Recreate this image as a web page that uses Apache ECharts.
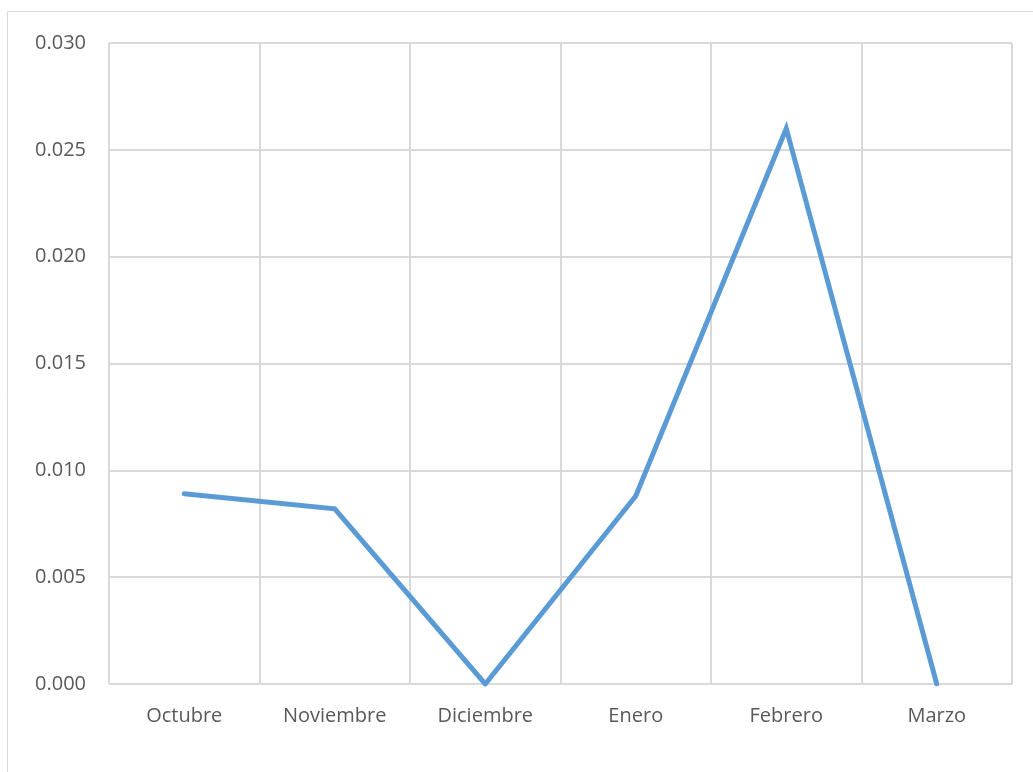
<!DOCTYPE html>
<html>
<head>
<meta charset="utf-8">
<script src="https://cdn.jsdelivr.net/npm/echarts@6/dist/echarts.min.js"></script>
<style>
  html, body { margin: 0; padding: 0; background: #fff; }
  #chart { width: 1033px; height: 772px; }
</style>
</head>
<body>
<div id="chart"></div>
<script>
// Monthly values, October to March
const months = ['Octubre', 'Noviembre', 'Diciembre', 'Enero', 'Febrero', 'Marzo'];
const values = [0.0089, 0.0082, 0.0, 0.0088, 0.026, 0.0];
const yMin = 0;
const yMax = 0.03;
const yStep = 0.005;

const chart = echarts.init(document.getElementById('chart'));
const gridColor = '#d9d9d9';
const textColor = '#595959';
const font = '"Open Sans", "Liberation Sans", sans-serif';

chart.setOption({
  animation: false,
  backgroundColor: '#fff',
  graphic: [{
    type: 'rect',
    shape: { x: 7.5, y: 11.5, width: 1100, height: 900 },
    style: { fill: 'none', stroke: gridColor, lineWidth: 1 },
    silent: true,
    z: -1
  }],
  grid: { left: 109, right: 21, top: 43, bottom: 88, containLabel: false },
  xAxis: {
    type: 'category',
    data: months,
    boundaryGap: true,
    axisLine: { show: true, lineStyle: { color: gridColor, width: 2 } },
    axisTick: { show: false },
    splitLine: { show: true, lineStyle: { color: gridColor, width: 2 } },
    axisLabel: { color: textColor, fontFamily: font, fontSize: 20, margin: 22 }
  },
  yAxis: {
    type: 'value',
    min: yMin,
    max: yMax,
    interval: yStep,
    axisLine: { show: false },
    axisTick: { show: false },
    splitLine: { show: true, lineStyle: { color: gridColor, width: 2 } },
    axisLabel: {
      color: textColor, fontFamily: font, fontSize: 20, margin: 23,
      formatter: v => v.toFixed(3)
    }
  },
  series: [{
    type: 'line',
    data: values,
    symbol: 'none',
    lineStyle: { color: '#5b9bd5', width: 5, cap: 'round', join: 'miter' }
  }]
});
</script>
</body>
</html>
